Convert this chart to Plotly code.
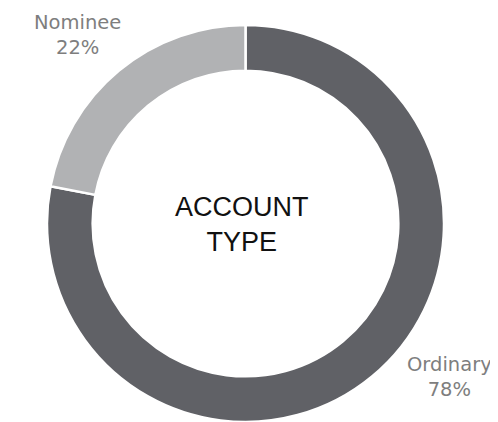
import plotly.graph_objects as go

categories = ["Ordinary", "Nominee"]
shares = [78, 22]
slice_colors = ["#606166", "#b1b2b4"]
center_title = "ACCOUNT<br>TYPE"

# The page body has an 8px margin, so the figure is drawn offset by 8px.
OFF = 8
W, H = 498 - OFF, 422 - OFF


def px_x(x):
    return (x - OFF) / W


def px_y(y):
    return 1 - (y - OFF) / H


fig = go.Figure(go.Pie(
    labels=categories,
    values=shares,
    sort=False,
    direction="clockwise",
    rotation=0,
    hole=0.77,
    marker=dict(colors=slice_colors, line=dict(color="white", width=2.5)),
    textinfo="none",
    hoverinfo="label+percent",
    showlegend=False,
    domain=dict(x=[px_x(45.5), px_x(445.5)], y=[0, px_y(25)]),
))

label_pos = {"Nominee": (77, 35), "Ordinary": (449, 377)}
label_font = dict(family="DejaVu Sans, sans-serif", size=19.5, color="#7e7e7e")
annotations = []
for cat, val in zip(categories, shares):
    x, y = label_pos[cat]
    annotations.append(dict(
        text=f"{cat}<br>{val}%", x=px_x(x), y=px_y(y), xref="paper", yref="paper",
        xanchor="center", yanchor="middle", showarrow=False, font=label_font,
    ))
annotations.append(dict(
    text=center_title, x=px_x(242), y=px_y(224), xref="paper", yref="paper",
    xanchor="center", yanchor="middle", showarrow=False,
    font=dict(family="Liberation Sans, Arial, sans-serif", size=27, color="#111111"),
))

fig.update_layout(
    width=W, height=H,
    margin=dict(l=0, r=0, t=0, b=0),
    paper_bgcolor="white", plot_bgcolor="white",
    annotations=annotations,
)

fig.write_html("out.html")
